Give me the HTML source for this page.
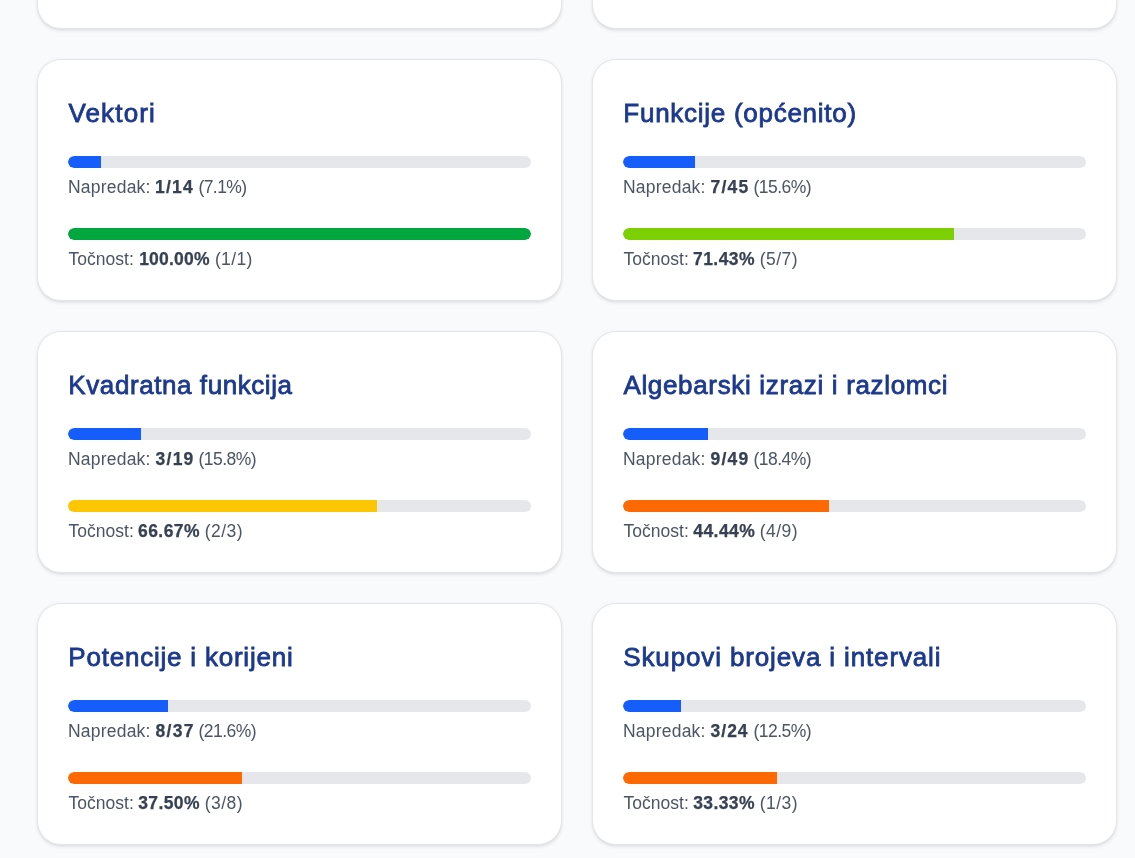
<!DOCTYPE html>
<html lang="hr">
<head>
<meta charset="utf-8">
<title>Napredak po temama</title>
<style>
*{box-sizing:border-box;margin:0;padding:0}
html,body{width:1135px;height:858px;overflow:hidden;background:#f9fafb}
body{position:relative;font-family:"Liberation Sans",sans-serif}
.card{position:absolute;width:525px;height:242px;background:#fff;border:1px solid #e6e6e7;border-radius:24px;box-shadow:0 1.25px 3.75px rgba(0,0,0,.09),0 1.25px 2.5px -1.25px rgba(0,0,0,.08)}
.card h3{position:absolute;top:33px;font-size:26px;line-height:40px;font-weight:400;color:#1c398e;-webkit-text-stroke:0.8px #1c398e;white-space:nowrap}
.bar{position:absolute;left:30px;width:463px;height:12px;border-radius:6px;background:#e5e7eb;overflow:hidden}
.bar i{display:block;height:100%;border-radius:6px 0 0 6px}
.b1{top:96px}.b2{top:168px}
.b1 i{background:#155dfc}
.lbl{position:absolute;left:30px;height:25px;font-size:17.5px;line-height:25px;color:#4a5565;white-space:nowrap}
.lbl b{color:#364153;font-weight:700;-webkit-text-stroke:0.25px #364153}
.l1{top:115px}.l2{top:187px}
</style>
</head>
<body>
<div class="card" style="left:37px;top:-213px"></div>
<div class="card" style="left:592px;top:-213px"></div>
<div class="card" style="left:37px;top:59px">
  <h3 style="left:30.39px;letter-spacing:1.166px">Vektori</h3>
  <div class="bar b1"><i style="width:33.07px"></i></div>
  <p class="lbl l1"><span style="margin-left:-0.05px;letter-spacing:0.216px">Napredak:</span> <b style="margin-left:-0.59px;letter-spacing:1.282px">1/14</b> <span style="margin-left:-0.63px;letter-spacing:-0.558px">(7.1%)</span></p>
  <div class="bar b2"><i style="width:463.00px;background:#00a63e;border-radius:6px"></i></div>
  <p class="lbl l2"><span style="margin-left:0.41px;letter-spacing:0.023px">Točnost:</span> <b style="margin-left:0.51px;letter-spacing:0.203px">100.00%</b> <span style="margin-left:0.39px;letter-spacing:0.386px">(1/1)</span></p>
</div>
<div class="card" style="left:592px;top:59px">
  <h3 style="left:30.36px;letter-spacing:0.726px">Funkcije (općenito)</h3>
  <div class="bar b1"><i style="width:72.02px"></i></div>
  <p class="lbl l1"><span style="margin-left:-0.05px;letter-spacing:0.216px">Napredak:</span> <b style="margin-left:-0.06px;letter-spacing:1.202px">7/45</b> <span style="margin-left:-0.83px;letter-spacing:-0.503px">(15.6%)</span></p>
  <div class="bar b2"><i style="width:330.71px;background:#7ccf00"></i></div>
  <p class="lbl l2"><span style="margin-left:0.41px;letter-spacing:0.023px">Točnost:</span> <b style="margin-left:-0.67px;letter-spacing:0.450px">71.43%</b> <span style="margin-left:-0.10px;letter-spacing:0.444px">(5/7)</span></p>
</div>
<div class="card" style="left:37px;top:331px">
  <h3 style="left:30.36px;letter-spacing:0.573px">Kvadratna funkcija</h3>
  <div class="bar b1"><i style="width:73.11px"></i></div>
  <p class="lbl l1"><span style="margin-left:-0.05px;letter-spacing:0.216px">Napredak:</span> <b style="margin-left:0.10px;letter-spacing:1.228px">3/19</b> <span style="margin-left:-1.08px;letter-spacing:-0.503px">(15.8%)</span></p>
  <div class="bar b2"><i style="width:308.67px;background:#fdc700"></i></div>
  <p class="lbl l2"><span style="margin-left:0.41px;letter-spacing:0.023px">Točnost:</span> <b style="margin-left:-0.64px;letter-spacing:0.431px">66.67%</b> <span style="margin-left:-0.02px;letter-spacing:0.444px">(2/3)</span></p>
</div>
<div class="card" style="left:592px;top:331px">
  <h3 style="left:30.42px;letter-spacing:0.661px">Algebarski izrazi i razlomci</h3>
  <div class="bar b1"><i style="width:85.04px"></i></div>
  <p class="lbl l1"><span style="margin-left:-0.05px;letter-spacing:0.216px">Napredak:</span> <b style="margin-left:-0.03px;letter-spacing:1.263px">9/49</b> <span style="margin-left:-1.11px;letter-spacing:-0.503px">(18.4%)</span></p>
  <div class="bar b2"><i style="width:205.78px;background:#ff6900"></i></div>
  <p class="lbl l2"><span style="margin-left:0.41px;letter-spacing:0.023px">Točnost:</span> <b style="margin-left:-0.34px;letter-spacing:0.413px">44.44%</b> <span style="margin-left:-0.19px;letter-spacing:0.444px">(4/9)</span></p>
</div>
<div class="card" style="left:37px;top:603px">
  <h3 style="left:30.36px;letter-spacing:0.779px">Potencije i korijeni</h3>
  <div class="bar b1"><i style="width:100.11px"></i></div>
  <p class="lbl l1"><span style="margin-left:-0.05px;letter-spacing:0.216px">Napredak:</span> <b style="margin-left:0.02px;letter-spacing:1.285px">8/37</b> <span style="margin-left:-1.23px;letter-spacing:-0.503px">(21.6%)</span></p>
  <div class="bar b2"><i style="width:173.62px;background:#ff6900"></i></div>
  <p class="lbl l2"><span style="margin-left:0.41px;letter-spacing:0.023px">Točnost:</span> <b style="margin-left:-0.53px;letter-spacing:0.411px">37.50%</b> <span style="margin-left:-0.03px;letter-spacing:0.444px">(3/8)</span></p>
</div>
<div class="card" style="left:592px;top:603px">
  <h3 style="left:30.31px;letter-spacing:0.861px">Skupovi brojeva i intervali</h3>
  <div class="bar b1"><i style="width:57.88px"></i></div>
  <p class="lbl l1"><span style="margin-left:-0.05px;letter-spacing:0.216px">Napredak:</span> <b style="margin-left:0.10px;letter-spacing:0.972px">3/24</b> <span style="margin-left:-0.05px;letter-spacing:-0.503px">(12.5%)</span></p>
  <div class="bar b2"><i style="width:154.33px;background:#ff6900"></i></div>
  <p class="lbl l2"><span style="margin-left:0.41px;letter-spacing:0.023px">Točnost:</span> <b style="margin-left:-0.53px;letter-spacing:0.411px">33.33%</b> <span style="margin-left:-0.03px;letter-spacing:0.444px">(1/3)</span></p>
</div>
</body>
</html>
